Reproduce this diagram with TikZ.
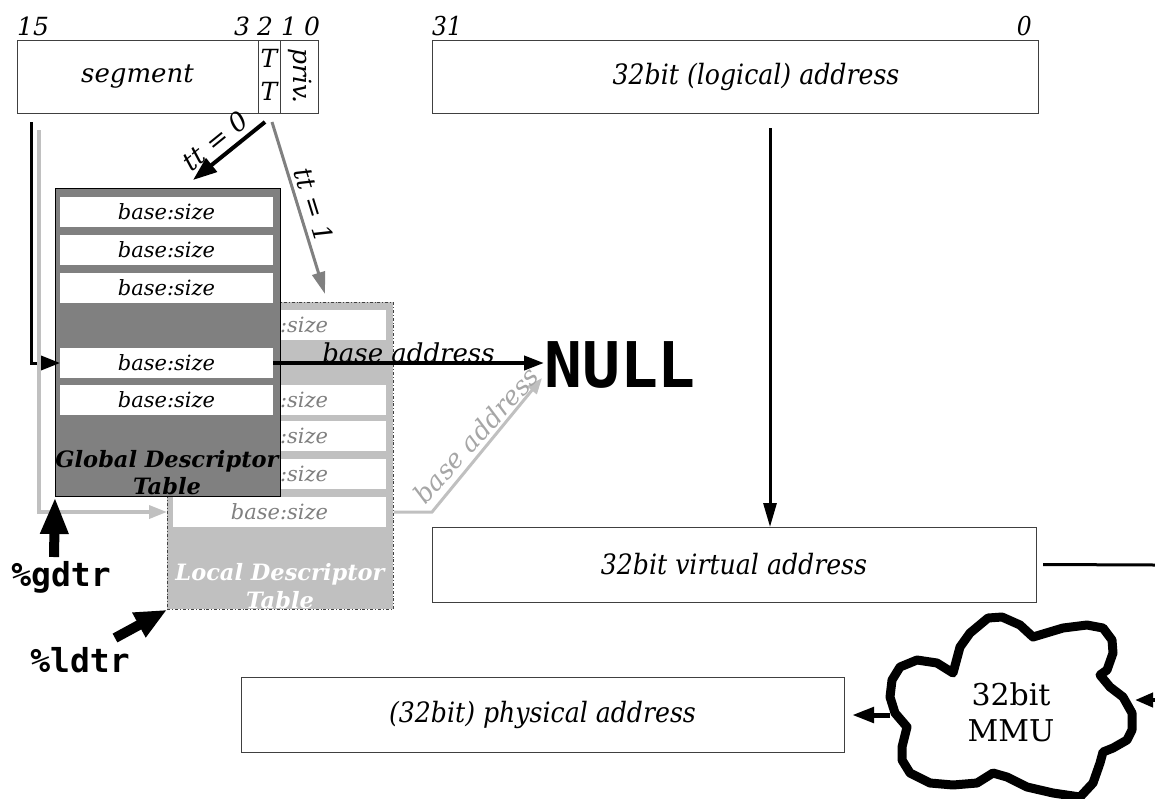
\documentclass[tikz,border=0pt]{standalone}
\usepackage{fontspec}
\setmainfont{DejaVu Serif}
\newfontfamily\condserif{DejaVu Serif Condensed}
\newfontfamily\monobold{DejaVu Sans Mono}
\usetikzlibrary{arrows.meta,calc}

\definecolor{gdtgray}{HTML}{808080}
\definecolor{ldtgray}{HTML}{C0C0C0}
\definecolor{edge}{HTML}{404040}

\begin{document}
\begin{tikzpicture}[x=1pt,y=-1pt,
  regbox/.style={draw=edge, line width=1pt, fill=white, inner sep=0pt, outer sep=0pt},
  addrtext/.style={font=\condserif\itshape\fontsize{28}{32}\selectfont},
  bitlbl/.style={font=\itshape\fontsize{25}{29}\selectfont, inner sep=0pt},
  cbitlbl/.style={font=\condserif\itshape\fontsize{26}{30}\selectfont, inner sep=0pt},
  entry/.style={fill=white, inner sep=0pt, outer sep=0pt, minimum width=213pt,
                minimum height=30pt, font=\itshape\fontsize{21}{24}\selectfont},
  ldtentry/.style={entry, text=gdtgray},
  regname/.style={font=\monobold\bfseries\fontsize{33}{36}\selectfont, inner sep=0pt},
  lbl/.style={font=\itshape\fontsize{26}{30}\selectfont, inner sep=1pt},
]
\useasboundingbox (0,0) rectangle (1155,798);

% ---------- segment selector ----------
\node[regbox, minimum width=241pt, minimum height=73pt, anchor=north west,
      font=\itshape\fontsize{26}{30}\selectfont] (seg) at (17,40) {segment};
\node[regbox, minimum width=22pt, minimum height=73pt, anchor=north west] (ttf) at (258,40) {};
\node[regbox, minimum width=38pt, minimum height=73pt, anchor=north west] (priv) at (280,40) {};
\node[bitlbl, anchor=base] (tta) at (269,67) {T};
\node[bitlbl, anchor=base] (ttb) at (269,100) {T};
\node[font=\itshape\fontsize{25}{28}\selectfont, inner sep=0pt, rotate=-90] (privtxt) at (300,76) {priv.};

\node[bitlbl, anchor=base west] (b15) at (17,35) {15};
\node[bitlbl, anchor=base west] (b3) at (234,35) {3};
\node[bitlbl, anchor=base west] (b2) at (257,35) {2};
\node[bitlbl, anchor=base west] (b1) at (281,35) {1};
\node[bitlbl, anchor=base west] (b0) at (304,35) {0};

% ---------- address boxes ----------
\node[regbox, minimum width=606pt, minimum height=73pt, anchor=north west] (logical) at (432,40) {};
\node[addrtext, inner sep=0pt] (logicaltxt) at (756,77) {32bit (logical) address};
\node[cbitlbl, anchor=base west] (l31) at (432,35) {31};
\node[cbitlbl, anchor=base east] (l0) at (1032,35) {0};

\node[regbox, addrtext, minimum width=604pt, minimum height=75pt, anchor=north west] (virtual) at (432,527) {32bit virtual address};
\node[regbox, addrtext, minimum width=603pt, minimum height=75pt, anchor=north west] (phys) at (241,677) {(32bit) physical address};

% ---------- descriptor tables ----------
% local table (behind)
\node[fill=ldtgray, draw=edge, line width=0.8pt, dash dot, minimum width=226pt, minimum height=307pt,
      anchor=north west, inner sep=0pt] (ldt) at (167,302) {};
\node[ldtentry] (l1) at (279.5,325) {base:size};
\node[ldtentry] (l2) at (279.5,400) {base:size};
\node[ldtentry] (l3) at (279.5,436) {base:size};
\node[ldtentry] (l4) at (279.5,474) {base:size};
\node[ldtentry] (l5) at (279.5,512) {base:size};
\node[text=white, align=center, font=\bfseries\itshape\fontsize{22.5}{28}\selectfont] (ldttitle) at (280,586) {Local Descriptor\\Table};

% global table (front)
\node[fill=gdtgray, draw=black, line width=1pt, minimum width=225pt, minimum height=308pt,
      anchor=north west, inner sep=0pt] (gdt) at (55,188) {};
\node[entry] (g1) at (166.5,212) {base:size};
\node[entry] (g2) at (166.5,250) {base:size};
\node[entry] (g3) at (166.5,288) {base:size};
\node[entry] (g4) at (166.5,363) {base:size};
\node[entry] (g5) at (166.5,400) {base:size};
\node[text=black, align=center, font=\bfseries\itshape\fontsize{22.5}{27}\selectfont] (gdttitle) at (167,473) {Global Descriptor\\Table};

% ---------- NULL target ----------
\node[font=\monobold\bfseries\fontsize{63}{63}\selectfont, inner sep=0pt, anchor=west] (null) at (544,365) {NULL};

% ---------- selector routing ----------
\coordinate (ttsrc0) at (265,122);
\coordinate (gdtin) at (193,180);
\draw[line width=4pt, -{Triangle[length=24pt,width=17pt]}] (ttsrc0) -- (gdtin);
\node[lbl, rotate=39] (tt0) at (215,141) {tt = 0};

\coordinate (ttsrc1) at (272,122);
\coordinate (ldtin) at (325,294);
\draw[gdtgray, line width=3pt, -{Triangle[length=22pt,width=13pt]}] (ttsrc1) -- (ldtin);
\node[lbl, rotate=-72.8] (tt1) at (314,205) {tt = 1};

\coordinate (segblk) at (31,122);
\draw[line width=3pt, -{Triangle[length=20pt,width=15pt]}] (segblk) |- (g4.west);
\coordinate (seggry) at (39,130);
\draw[ldtgray, line width=3.5pt, -{Triangle[length=18pt,width=13pt]}] (seggry) |- (ldt.west |- l5.west);

% ---------- base addresses ----------
\draw[line width=4pt, -{Triangle[length=20pt,width=14pt]}] (g4.east) -- (null.west |- g4.east)
  node[midway, above=-3pt, lbl] (balbl) {base address};

\coordinate (ldtbend) at (432,512);
\coordinate (nullsw) at (542,378);
\draw[ldtgray, line width=3pt, -{Triangle[length=16pt,width=12pt]}] (ldt.east |- l5.east) -- (ldtbend) -- (nullsw);
\node[lbl, text=gray!70, rotate=48] (balbl2) at (476,435) {base address};

% ---------- table registers ----------
\node[regname] (gdtr) at (61,577) {\%gdtr};
\coordinate (gdtrtail) at (54,557);
\draw[line width=10pt, -{Triangle[length=37pt,width=26pt]}] (gdtrtail) -- (gdt.south west);
\node[regname] (ldtr) at (80,660) {\%ldtr};
\coordinate (ldtrtail) at (115,638);
\draw[line width=10pt, -{Triangle[length=32pt,width=26pt]}] (ldtrtail) -- (ldt.south west);

% ---------- logical to virtual ----------
\coordinate (logsrc) at (770,128);
\draw[line width=3pt, -{Triangle[length=24pt,width=13pt]}] (logsrc) -- (logsrc |- virtual.north);
\coordinate (virtout) at (1155,565);
\draw[line width=3pt] ($(virtual.east)+(7,0)$) -- (virtout);

% ---------- MMU cloud ----------
\draw[line width=9pt, line join=round, fill=white]
  (988,618) -- (1002,617) -- (1020,625) -- (1033,637) -- (1063,628) -- (1087,625) -- (1103,628)
  -- (1112,640) -- (1113,653) -- (1107,670) -- (1100,675) -- (1110,687) -- (1123,697) -- (1132,713)
  -- (1132,730) -- (1127,740) -- (1113,748) -- (1103,752) -- (1100,763) -- (1093,783) -- (1080,797)
  -- (1053,793) -- (1027,787) -- (1007,777) -- (993,773) -- (977,783) -- (953,785) -- (930,783)
  -- (910,773) -- (902,760) -- (902,747) -- (907,727) -- (895,713) -- (890,697) -- (892,680)
  -- (900,667) -- (917,660) -- (937,663) -- (953,673) -- (960,647) -- (970,633) -- cycle;
\node[align=center, font=\fontsize{30}{36}\selectfont] (mmu) at (1011,712) {32bit\\MMU};
\coordinate (mmuwest) at (890,715);
\coordinate (mmueast) at (1135,700);
\coordinate (mmufeed) at (1155,700);
\draw[line width=5pt, -{Triangle[length=22pt,width=15pt]}] (mmuwest) -- ($(mmuwest -| phys.east)+(8,0)$);
\draw[line width=4pt, -{Triangle[length=18pt,width=14pt]}] (mmufeed) -- (mmueast);
\end{tikzpicture}
\end{document}
